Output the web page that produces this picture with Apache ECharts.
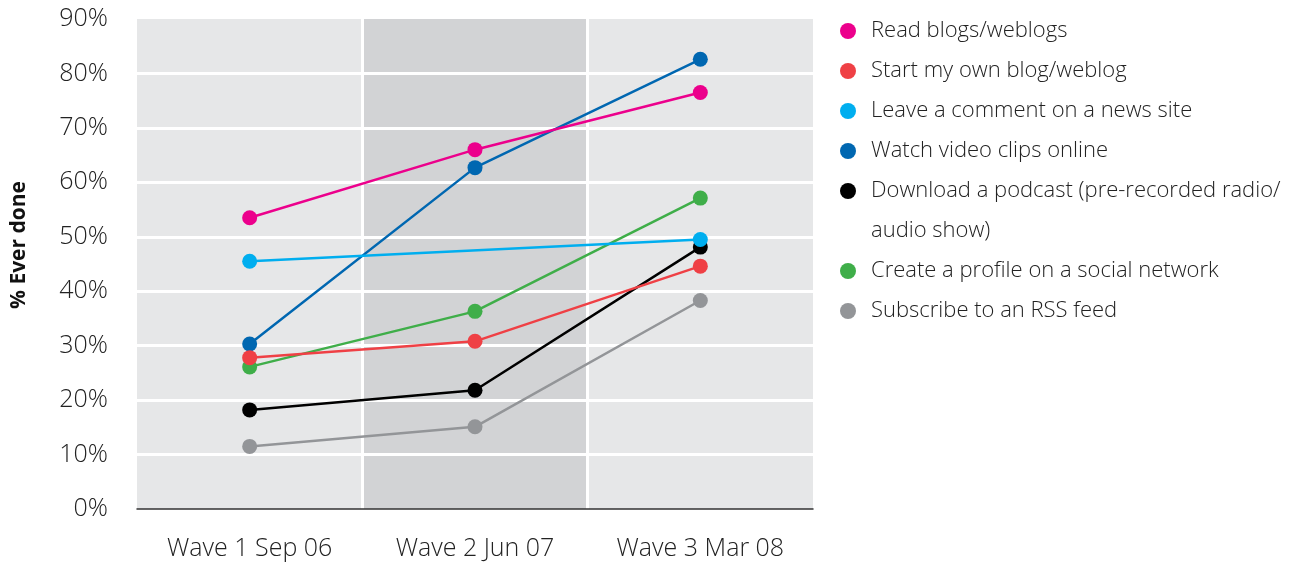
<!DOCTYPE html>
<html>
<head>
<meta charset="utf-8">
<script src="https://cdn.jsdelivr.net/npm/echarts@6/dist/echarts.min.js"></script>
<style>
html,body{margin:0;padding:0;background:#fff;}
#chart{width:1295px;height:564px;}
</style>
</head>
<body>
<div id="chart"></div>
<script>
const categories = ['Wave 1 Sep 06', 'Wave 2 Jun 07', 'Wave 3 Mar 08'];
const yTicks = [0, 10, 20, 30, 40, 50, 60, 70, 80, 90];

const readBlogs = [53.5, 66.0, 76.5];
const startBlog = [27.8, 30.8, 44.6];
const leaveComment = [45.5, null, 49.5];
const watchVideo = [30.3, 62.7, 82.6];
const podcast = [18.2, 21.8, 48.1];
const socialProfile = [26.1, 36.3, 57.1];
const rssFeed = [11.5, 15.1, 38.3];

const seriesNames = [
  'Read blogs/weblogs',
  'Start my own blog/weblog',
  'Leave a comment on a news site',
  'Watch video clips online',
  'Download a podcast (pre-recorded radio/',
  'Create a profile on a social network',
  'Subscribe to an RSS feed'
];
const podcastContinuation = 'audio show)';
const seriesData = [readBlogs, startBlog, leaveComment, watchVideo, podcast, socialProfile, rssFeed];
const colors = ['#ec008c', '#ef4045', '#00aeef', '#0067b1', '#000000', '#3fae49', '#939598'];

const FONT = '"Open Sans", Lato, sans-serif';
const chart = echarts.init(document.getElementById('chart'), null, {renderer: 'canvas'});

const series = seriesNames.map((n, i) => ({
  name: n,
  type: 'line',
  data: seriesData[i],
  connectNulls: true,
  symbol: 'circle',
  symbolSize: 15,
  color: colors[i],
  lineStyle: {width: 2.5, color: colors[i]},
  itemStyle: {color: colors[i]},
  z: 10 - i
}));

const legendText = {color: '#222', fontSize: 22, fontFamily: FONT, fontWeight: 300, lineHeight: 40};

chart.setOption({
  animation: false,
  backgroundColor: '#fff',
  grid: {left: 137, right: 482, top: 19, bottom: 55, containLabel: false},
  legend: [
    {
      data: seriesNames.slice(0, 5).map(n => ({name: n, icon: 'circle'})),
      orient: 'vertical', left: 840, top: 11, itemGap: 0, padding: 0,
      itemWidth: 36, itemHeight: 16, textStyle: legendText, selectedMode: false
    },
    {
      data: seriesNames.slice(5).map(n => ({name: n, icon: 'circle'})),
      orient: 'vertical', left: 840, top: 251, itemGap: 0, padding: 0,
      itemWidth: 36, itemHeight: 16, textStyle: legendText, selectedMode: false
    }
  ],
  graphic: [{
    type: 'text', left: 871, top: 216,
    style: {text: podcastContinuation, fill: '#222', fontSize: 22, fontFamily: FONT, fontWeight: 300, lineHeight: 30}
  }],
  xAxis: {
    type: 'category',
    data: categories,
    boundaryGap: true,
    axisLine: {show: true, lineStyle: {color: '#333', width: 1.5}},
    axisTick: {show: false},
    axisLabel: {color: '#222', fontSize: 25, fontFamily: FONT, fontWeight: 300, margin: 27},
    splitLine: {show: true, showMinLine: false, showMaxLine: false, lineStyle: {color: '#fff', width: 3}},
    splitArea: {show: true, areaStyle: {color: ['#e6e7e8', '#d2d3d5']}}
  },
  yAxis: {
    type: 'value',
    min: 0, max: 90, interval: 10,
    name: '% Ever done',
    nameLocation: 'middle',
    nameRotate: 90,
    nameGap: 107,
    nameTextStyle: {color: '#111', fontSize: 21, fontWeight: 'bold', fontFamily: FONT, padding: [0, 0, 0, 38]},
    axisLine: {show: false},
    axisTick: {show: false},
    axisLabel: {color: '#222', fontSize: 25, fontFamily: FONT, fontWeight: 300, margin: 29,
      formatter: v => yTicks.includes(v) ? v + '%' : ''},
    splitLine: {show: true, showMinLine: false, showMaxLine: false, lineStyle: {color: '#fff', width: 3}},
    z: 1
  },
  series: series
});
</script>
</body>
</html>
